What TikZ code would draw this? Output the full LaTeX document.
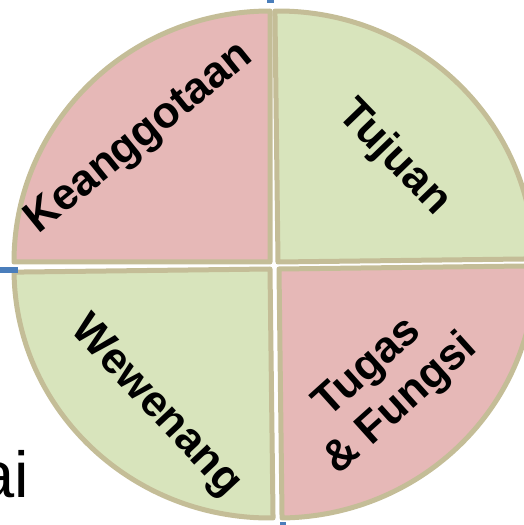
\documentclass[tikz,border=0pt]{standalone}
\usepackage{fontspec}
\setmainfont{Liberation Sans}
\usepackage{xcolor}
\usepackage{tikz}
\definecolor{rosa}{HTML}{E6B8B7}
\definecolor{hijau}{HTML}{D8E4BC}
\definecolor{tepi}{HTML}{C4BD97}
\definecolor{pegangan}{HTML}{4A7EBB}

\begin{document}
\begin{tikzpicture}[x=0.02cm,y=0.02cm,
    sektor/.style={draw=tepi,line width=0.1cm,line join=round},
    label/.style={font=\fontsize{25}{28}\selectfont\bfseries,align=center,inner sep=0pt}]
    \useasboundingbox (0,0) rectangle (524,525);
    \draw[sektor,fill=rosa] (270,263) -- (14,263) arc (180:90:256 and 251) -- cycle;
    \draw[sektor,fill=hijau,rotate around={0.7:(278,263)}] (278,263) -- (278,514) arc (90:0:256 and 251) -- cycle;
    \draw[sektor,fill=hijau,rotate around={0.7:(270,256)}] (270,256) -- (14,256) arc (180:270:256 and 249) -- cycle;
    \draw[sektor,fill=rosa,rotate around={0.7:(279,256)}] (279,256) -- (279,7) arc (270:360:256 and 249) -- cycle;
    \node[label,rotate=39] (keanggotaan) at (140,386) {Keanggotaan};
    \node[label,rotate=-46] (tujuan) at (394,367) {Tujuan};
    \node[label,rotate=-47] (wewenang) at (155,118) {Wewenang};
    \node[label,rotate=42] (tugas) at (385,138) {Tugas\\\& Fungsi};
    \node[anchor=base east,font=\fontsize{37}{44}\selectfont,inner sep=0pt] (sisa) at (29,28) {ai};
    \fill[pegangan] (267,522) rectangle (274,525);
    \fill[pegangan] (0,252) rectangle (18,258);
    \fill[pegangan] (280,0) rectangle (286,3);
\end{tikzpicture}
\end{document}
